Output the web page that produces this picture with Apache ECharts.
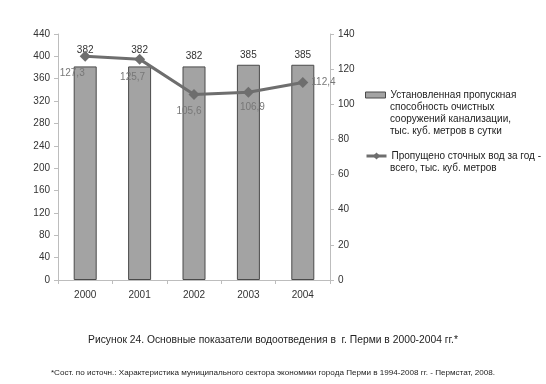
<!DOCTYPE html>
<html><head><meta charset="utf-8">
<script src="https://cdn.jsdelivr.net/npm/echarts@6/dist/echarts.min.js"></script>
<style>html,body{margin:0;padding:0;background:#fff}#c{width:546px;height:384px}</style>
</head><body><div id="c"></div>
<script>
var categories = ['2000', '2001', '2002', '2003', '2004'];
var capacityValues = [382, 382, 382, 385, 385];
var dischargeValues = [127.3, 125.7, 105.6, 106.9, 112.4];
var leftTicks = {min: 0, max: 440, interval: 40};
var rightTicks = {min: 0, max: 140, interval: 20};
var barNameLines = ['Установленная пропускная', 'способность очистных', 'сооружений канализации,', 'тыс. куб. метров в сутки'];
var lineNameLines = ['Пропущено сточных вод за год -', 'всего, тыс. куб. метров'];
var captionText = 'Рисунок 24. Основные показатели водоотведения в  г. Перми в 2000-2004 гг.*';
var footnoteText = '*Сост. по источн.: Характеристика муниципального сектора экономики города Перми в 1994-2008 гг. - Пермстат, 2008.';

var barName = barNameLines.join('\n');
var lineName = lineNameLines.join('\n');
var FONT = '"Liberation Sans", Arial, sans-serif';
var barLabelOffsets = [[0,-6],[0,-6],[0,0],[0,0],[0,0]];
var lineLabelCfg = [
  {position:'bottom', offset:[-13,0]},
  {position:'bottom', offset:[-7,2]},
  {position:'bottom', offset:[-5,0]},
  {position:'bottom', offset:[4,-1]},
  {position:'right', offset:[-3,0]}
];
function fmt(v){ return String(v.toFixed(1)).replace('.', ','); }

var barData = capacityValues.map(function(v,i){
  return {value: v, label: {offset: barLabelOffsets[i]}};
});
var lineData = dischargeValues.map(function(v,i){
  return {value: v, label: {position: lineLabelCfg[i].position, offset: lineLabelCfg[i].offset}};
});

var axisCommon = {
  axisLine: {show: true, lineStyle: {color: '#bdbdbd'}},
  axisTick: {show: true, length: 4, lineStyle: {color: '#bdbdbd'}},
  splitLine: {show: false},
  axisLabel: {color: '#333', fontSize: 10, fontFamily: FONT, margin: 8}
};
var legendText = {fontSize: 10, color: '#222', fontFamily: FONT, lineHeight: 12};

var chart = echarts.init(document.getElementById('c'), null, {renderer: 'canvas'});
chart.setOption({
  animation: false,
  backgroundColor: '#fff',
  title: [
    {text: captionText, left: 'center', top: 330, textStyle: {fontSize: 10.3, fontWeight: 'normal', color: '#222', fontFamily: FONT}},
    {text: footnoteText, left: 'center', top: 364, textStyle: {fontSize: 8.1, fontWeight: 'normal', color: '#222', fontFamily: FONT}}
  ],
  grid: {left: 58, right: 216, top: 34, bottom: 104},
  legend: [
    {data: [{name: barName, icon: 'rect'}], left: 365, top: 89, padding: 0, orient: 'vertical',
     itemWidth: 20, itemHeight: 6, textStyle: legendText,
     itemStyle: {borderColor: '#4a4a4a', borderWidth: 1},
     formatter: function(){ return barNameLines[0]; }},
    {data: [{name: lineName, lineStyle: {width: 3, color: '#6e6e6e'}}], left: 365, top: 150, padding: 0, orient: 'vertical',
     itemWidth: 20, itemHeight: 9, textStyle: legendText,
     formatter: function(){ return lineNameLines[0]; }}
  ],
  graphic: [
    {type: 'text', left: 390, top: 101, style: {text: barNameLines.slice(1).join('\n'), font: '10px ' + FONT, fill: '#222', lineHeight: 12}},
    {type: 'text', left: 390, top: 162, style: {text: lineNameLines.slice(1).join('\n'), font: '10px ' + FONT, fill: '#222', lineHeight: 12}}
  ],
  xAxis: {
    type: 'category', data: categories, boundaryGap: true,
    axisLine: {show: true, lineStyle: {color: '#bdbdbd'}},
    axisTick: {show: true, length: 4, lineStyle: {color: '#bdbdbd'}},
    axisLabel: {color: '#333', fontSize: 10, fontFamily: FONT, margin: 10}
  },
  yAxis: [
    Object.assign({type: 'value', position: 'left', min: leftTicks.min, max: leftTicks.max, interval: leftTicks.interval}, axisCommon),
    Object.assign({type: 'value', position: 'right', min: rightTicks.min, max: rightTicks.max, interval: rightTicks.interval}, axisCommon)
  ],
  series: [
    {
      name: barName, type: 'bar', yAxisIndex: 0, data: barData, barWidth: 23,
      itemStyle: {color: '#a3a3a3', borderColor: '#4a4a4a', borderWidth: 1},
      label: {show: true, position: 'top', distance: 5, color: '#333', fontSize: 10, fontFamily: FONT}
    },
    {
      name: lineName, type: 'line', yAxisIndex: 1, data: lineData,
      symbol: 'diamond', symbolSize: 11,
      lineStyle: {color: '#6e6e6e', width: 3},
      itemStyle: {color: '#6e6e6e'},
      label: {show: true, color: '#777', fontSize: 10, fontFamily: FONT, distance: 6,
              formatter: function(p){ return fmt(p.value); }}
    }
  ]
});
</script></body></html>
